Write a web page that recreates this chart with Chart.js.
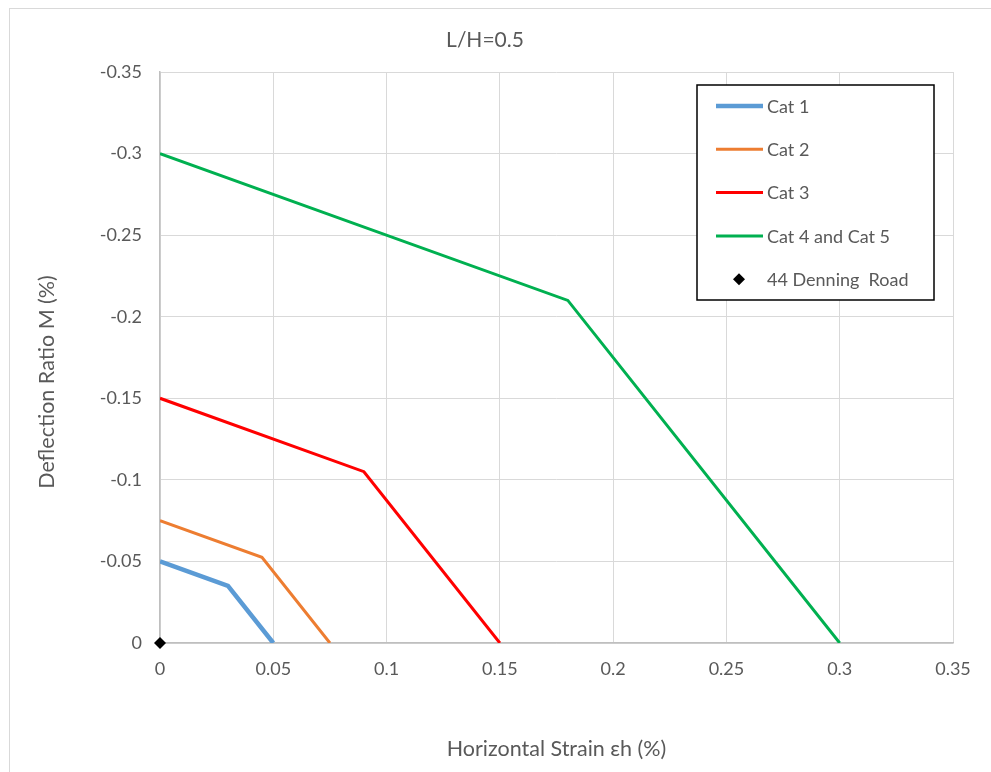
<!DOCTYPE html>
<html>
<head>
<meta charset="utf-8">
<script src="https://cdn.jsdelivr.net/npm/chart.js@4/dist/chart.umd.min.js"></script>
<style>
  body { margin: 0; background: #fff; }
  #frame { position: absolute; left: 9px; top: 8px; width: 1000px; height: 800px; border: 1px solid #d9d9d9; }
  #grafico { position: absolute; left: 0; top: 0; }
</style>
</head>
<body>
<div id="frame"></div>
<canvas id="grafico" width="991" height="772"></canvas>
<script>
// horizontal strain (%) and deflection ratio (%) for each damage category
var strainCat1 = [0, 0.03, 0.05];
var ratioCat1 = [-0.05, -0.035, 0];
var strainCat2 = [0, 0.045, 0.075];
var ratioCat2 = [-0.075, -0.0525, 0];
var strainCat3 = [0, 0.09, 0.15];
var ratioCat3 = [-0.15, -0.105, 0];
var strainCat45 = [0, 0.18, 0.3];
var ratioCat45 = [-0.3, -0.21, 0];
var strainSite = [0];
var ratioSite = [0];

var nomes = ['Cat 1', 'Cat 2', 'Cat 3', 'Cat 4 and Cat 5', '44 Denning  Road'];
var titulo = 'L/H=0.5';
var tituloX = 'Horizontal Strain εh (%)';
var tituloY = 'Deflection Ratio M (%)';

function pontos(xs, ys){
    return xs.map(function(x, i){ return {x: x, y: ys[i]}; });
}

function rotulo(v){
    return String(Number(v.toFixed(3)));
}

var fonte = "Lato, 'Open Sans', 'DejaVu Sans', sans-serif";
var cinza = '#595959';

// chart title, y title and legend drawn by hand so they sit like the Excel layout
var legendaInterna = {
    id: 'legendaInterna',
    afterDraw: function(chart){
        var ctx = chart.ctx;
        ctx.save();
        ctx.fillStyle = cinza;
        ctx.font = '21px ' + fonte;
        ctx.textAlign = 'center';
        ctx.textBaseline = 'middle';
        ctx.fillText(titulo, 485, 40);

        ctx.save();
        ctx.font = '21.5px ' + fonte;
        ctx.translate(47, 382);
        ctx.rotate(-Math.PI / 2);
        ctx.fillText(tituloY, 0, 0);
        ctx.restore();

        var x0 = 697, y0 = 85, w = 237, h = 215;
        ctx.textAlign = 'left';
        ctx.fillStyle = '#fff';
        ctx.fillRect(x0, y0, w, h);
        ctx.strokeStyle = '#000';
        ctx.lineWidth = 1.5;
        ctx.strokeRect(x0, y0, w, h);
        ctx.font = '18px ' + fonte;
        chart.data.datasets.forEach(function(ds, i){
            var yy = 106 + i * 43.3;
            if (ds.showLine) {
                ctx.strokeStyle = ds.borderColor;
                ctx.lineWidth = ds.borderWidth;
                ctx.beginPath();
                ctx.moveTo(716, yy);
                ctx.lineTo(763, yy);
                ctx.stroke();
            } else {
                ctx.fillStyle = '#000';
                ctx.beginPath();
                ctx.moveTo(739, yy - 6);
                ctx.lineTo(745, yy);
                ctx.lineTo(739, yy + 6);
                ctx.lineTo(733, yy);
                ctx.closePath();
                ctx.fill();
            }
            ctx.fillStyle = cinza;
            ctx.fillText(ds.label, 767, yy + 1);
        });
        ctx.restore();
    }
};

var ctx = document.getElementById('grafico').getContext('2d');

var grafico = new Chart(ctx, {
    type: 'scatter',
    data: {
        datasets: [{
            label: nomes[0],
            data: pontos(strainCat1, ratioCat1),
            borderColor: '#5B9BD5',
            borderWidth: 4.5,
            showLine: true,
            pointRadius: 0
        }, {
            label: nomes[1],
            data: pontos(strainCat2, ratioCat2),
            borderColor: '#ED7D31',
            borderWidth: 3,
            showLine: true,
            pointRadius: 0
        }, {
            label: nomes[2],
            data: pontos(strainCat3, ratioCat3),
            borderColor: '#FF0000',
            borderWidth: 3,
            showLine: true,
            pointRadius: 0
        }, {
            label: nomes[3],
            data: pontos(strainCat45, ratioCat45),
            borderColor: '#00B050',
            borderWidth: 3,
            showLine: true,
            pointRadius: 0
        }, {
            label: nomes[4],
            data: pontos(strainSite, ratioSite),
            showLine: false,
            pointStyle: 'rectRot',
            pointRadius: 6,
            backgroundColor: '#000',
            borderColor: '#000',
            borderWidth: 0,
            clip: false
        }]
    },
    options: {
        responsive: false,
        animation: false,
        layout: { padding: { left: 0, right: 38, top: 72, bottom: 0 } },
        plugins: {
            legend: { display: false },
            tooltip: { enabled: false },
            title: { display: false }
        },
        scales: {
            x: {
                type: 'linear',
                min: 0,
                max: 0.35,
                ticks: {
                    stepSize: 0.05,
                    color: cinza,
                    padding: 15,
                    maxRotation: 0,
                    font: { family: fonte, size: 18 },
                    callback: rotulo
                },
                grid: { color: '#d9d9d9', lineWidth: 1, drawTicks: false },
                border: { color: '#bfbfbf', width: 1.5 },
                title: {
                    display: true,
                    text: tituloX,
                    color: cinza,
                    font: { family: fonte, size: 21.5 },
                    padding: { top: 0, bottom: 10 }
                },
                afterFit: function(scale){ scale.height = 129; }
            },
            y: {
                type: 'linear',
                reverse: true,
                min: -0.35,
                max: 0,
                ticks: {
                    stepSize: 0.05,
                    color: cinza,
                    padding: 18,
                    font: { family: fonte, size: 18 },
                    callback: rotulo
                },
                grid: { color: '#d9d9d9', lineWidth: 1, drawTicks: false },
                border: { color: '#bfbfbf', width: 1.5 },
                afterFit: function(scale){ scale.width = 160; }
            }
        }
    },
    plugins: [legendaInterna]
});
</script>
</body>
</html>
